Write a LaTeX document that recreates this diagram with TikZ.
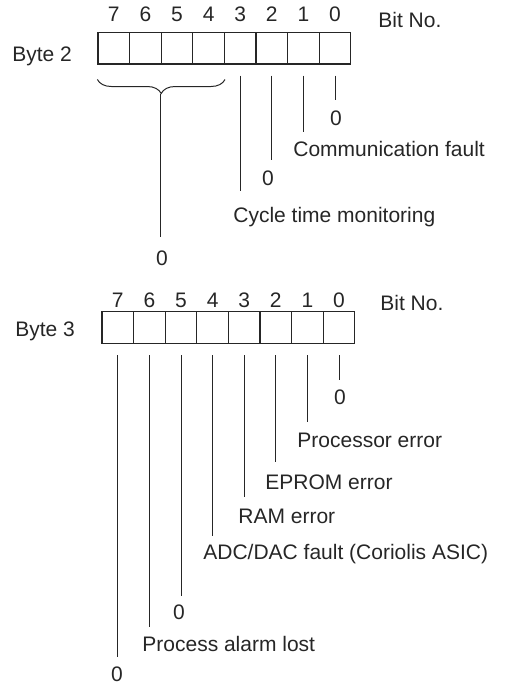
\documentclass[tikz,border=0pt]{standalone}
\usepackage{fontspec}
\setmainfont{Liberation Sans}
\usepackage{xcolor}
\usepackage{tikz}
\usetikzlibrary{positioning,decorations.pathreplacing}

\definecolor{ink}{gray}{0.15}

\begin{document}
\begin{tikzpicture}[
  x=0.5pt,y=-0.5pt,
  cell/.style={draw=ink,line width=0.6pt,minimum width=15.8pt,minimum height=15.9pt,inner sep=0pt},
  bitnum/.style={inner sep=0pt,text=ink,font=\fontsize{10.5}{12}\selectfont},
  lbl/.style={inner sep=0pt,text=ink,font=\fontsize{10.5}{12}\selectfont},
  lead/.style={draw=ink,line width=0.5pt},
  brace/.style={draw=ink,line width=0.5pt,decorate,decoration={brace,mirror,amplitude=7pt}}
]
\useasboundingbox (0,0) rectangle (504,691);
% byte 2
\foreach \b in {0,...,7}{
  \node[cell] (b2c\b) at ({113.8+31.6*(7-\b)},48) {};
  \node[bitnum,above=4.7pt of b2c\b] (b2n\b) {\b};
}
\node[lbl,anchor=base west] (byte2) at (12,61.5) {Byte 2};
\node[lbl,anchor=base west] (bitno2) at (378,27) {Bit No.};
\node[lbl,anchor=base] (b2z0) at (336,125) {0};
\node[lbl,anchor=base west] (comm) at (293,156.7) {Communication fault};
\node[lbl,anchor=base] (b2z2) at (268,185) {0};
\node[lbl,anchor=base west] (cycle) at (233,222.3) {Cycle time monitoring};
\node[lbl,anchor=base] (b2zb) at (162,265) {0};
\draw[brace] ([yshift=-7.5pt]b2c7.south west) -- ([yshift=-7.5pt]b2c4.south east);
\coordinate (brtip) at ([yshift=-14.5pt]b2c5.south west);
\draw[lead] ([yshift=-5.5pt]b2c0.south) -- ([yshift=5pt]b2c0.south |- b2z0.north);
\draw[lead] ([yshift=-5.5pt]b2c1.south) -- ([yshift=4.3pt]b2c1.south |- comm.north);
\draw[lead] ([yshift=-5.5pt]b2c2.south) -- ([yshift=5pt]b2c2.south |- b2z2.north);
\draw[lead] ([yshift=-5.5pt]b2c3.south) -- ([yshift=7.6pt]b2c3.south |- cycle.north);
\draw[lead] (brtip) -- ([yshift=6.5pt]brtip |- b2zb.north);
% byte 3
\foreach \b in {0,...,7}{
  \node[cell] (b3c\b) at ({117.8+31.6*(7-\b)},327.5) {};
  \node[bitnum,above=1.7pt of b3c\b] (b3n\b) {\b};
}
\node[lbl,anchor=base west] (byte3) at (15,336.7) {Byte 3};
\node[lbl,anchor=base west] (bitno3) at (380,310) {Bit No.};
\node[lbl,anchor=base] (b3z0) at (340,404) {0};
\node[lbl,anchor=base west] (proc) at (297,447.7) {Processor error};
\node[lbl,anchor=base west] (eprom) at (265,489) {EPROM error};
\node[lbl,anchor=base west] (ram) at (238,523) {RAM error};
\node[lbl,anchor=base west] (adc) at (203,559) {ADC/DAC fault (Coriolis ASIC)};
\node[lbl,anchor=base] (b3z5) at (179,619) {0};
\node[lbl,anchor=base west] (alarm) at (142,651.7) {Process alarm lost};
\node[lbl,anchor=base] (b3z7) at (117,681) {0};
\draw[lead] ([yshift=-5.7pt]b3c0.south) -- ([yshift=4.5pt]b3c0.south |- b3z0.north);
\draw[lead] ([yshift=-5.7pt]b3c1.south) -- ([yshift=5.3pt]b3c1.south |- proc.north);
\draw[lead] ([yshift=-5.7pt]b3c2.south) -- ([yshift=6pt]b3c2.south |- eprom.north);
\draw[lead] ([yshift=-5.7pt]b3c3.south) -- ([yshift=5.5pt]b3c3.south |- ram.north);
\draw[lead] ([yshift=-5.7pt]b3c4.south) -- ([yshift=3.5pt]b3c4.south |- adc.north);
\draw[lead] ([yshift=-5.7pt]b3c5.south) -- ([yshift=4pt]b3c5.south |- b3z5.north);
\draw[lead] ([yshift=-5.7pt]b3c6.south) -- ([yshift=4.3pt]b3c6.south |- alarm.north);
\draw[lead] ([yshift=-5.7pt]b3c7.south) -- ([yshift=4.5pt]b3c7.south |- b3z7.north);
\end{tikzpicture}
\end{document}
